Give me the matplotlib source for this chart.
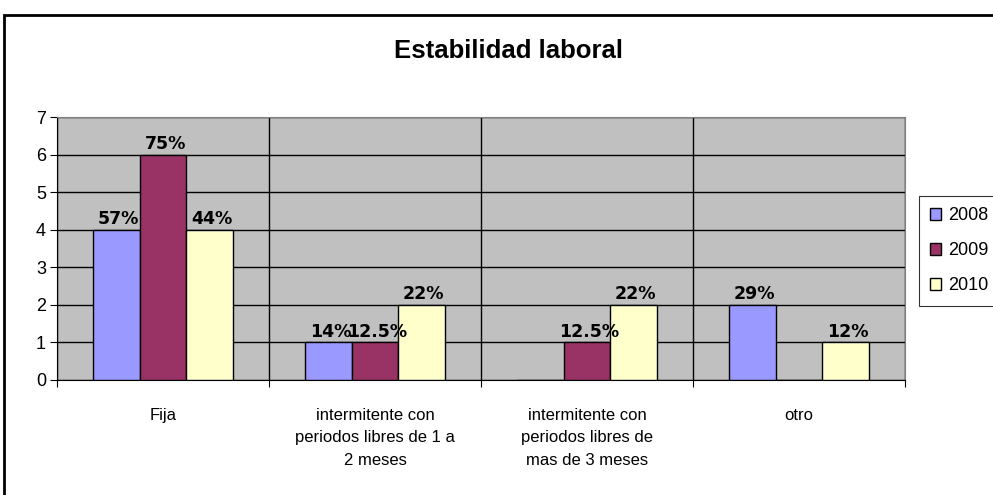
import numpy as np
import matplotlib
matplotlib.use("Agg")
import matplotlib.pyplot as plt
from matplotlib.patches import Rectangle

categories = ["Fija",
              "intermitente con\nperiodos libres de 1 a\n2 meses",
              "intermitente con\nperiodos libres de\nmas de 3 meses",
              "otro"]
series_names = ["2008", "2009", "2010"]
values_2008 = [4, 1, 0, 2]
values_2009 = [6, 1, 1, 0]
values_2010 = [4, 2, 2, 1]
labels_2008 = ["57%", "14%", "", "29%"]
labels_2009 = ["75%", "12.5%", "12.5%", ""]
labels_2010 = ["44%", "22%", "22%", "12%"]
colors = ["#9999FF", "#993366", "#FFFFCC"]

plt.rcParams["font.family"] = ["Liberation Sans", "DejaVu Sans"]

W, H = 993, 495
fig = plt.figure(figsize=(W / 100, H / 100), dpi=100)
ax = fig.add_axes([57 / W, (H - 380) / H, (905 - 57) / W, (380 - 117) / H])
ax.set_facecolor("#C0C0C0")

x = np.arange(len(categories))
width = 0.22
series = [values_2008, values_2009, values_2010]
labels = [labels_2008, labels_2009, labels_2010]
for i, (vals, labs) in enumerate(zip(series, labels)):
    bars = ax.bar(x + (i - 1) * width, vals, width, color=colors[i],
                  edgecolor="black", linewidth=1, label=series_names[i], zorder=3)
    for b, lab in zip(bars, labs):
        if lab:
            ax.annotate(lab, (b.get_x() + b.get_width() / 2, b.get_height()),
                        xytext=(1.5, 1), textcoords="offset points",
                        ha="center", va="bottom", fontsize=12.5,
                        fontweight="bold", family="DejaVu Sans", zorder=5)

ax.set_xlim(-0.5, len(categories) - 0.5)
ax.set_ylim(0, 7)
ax.set_yticks(range(0, 8))
ax.tick_params(axis="y", direction="out", length=5, labelsize=13, pad=3)

# category boundaries as major ticks + grid, names on minor ticks
ax.set_xticks(np.arange(-0.5, len(categories), 1.0))
ax.set_xticklabels([])
ax.tick_params(axis="x", which="major", direction="out", length=5)
ax.set_xticks(x, minor=True)
ax.set_xticklabels(categories, minor=True, fontsize=12, linespacing=1.62, va="top")
ax.tick_params(axis="x", which="minor", length=0, pad=20)

ax.grid(True, which="major", color="black", linewidth=1)
ax.set_axisbelow(True)
for s in ["top", "right"]:
    ax.spines[s].set_color("#808080")
for s in ["left", "bottom"]:
    ax.spines[s].set_color("black")

fig.text(508 / W, 1 - 58 / H, "Estabilidad laboral", ha="center", va="baseline",
         fontsize=18.5, fontweight="bold")

fig.legend(loc="upper left", bbox_to_anchor=(919 / W, 1 - 196 / H),
           bbox_transform=fig.transFigure, fontsize=13, frameon=True,
           fancybox=False, edgecolor="black", handlelength=0.6, handleheight=0.6,
           handletextpad=0.4, labelspacing=1.0, borderpad=0.62, borderaxespad=0)
fig.legends[0].get_frame().set_linewidth(0.8)

# chart area border
fig.patches.append(Rectangle((4 / W, -0.1), 1.1, 1 - 15 / H + 0.1,
                             transform=fig.transFigure, fill=False,
                             edgecolor="black", linewidth=2, clip_on=False))

fig.savefig("out.png", dpi=100)
